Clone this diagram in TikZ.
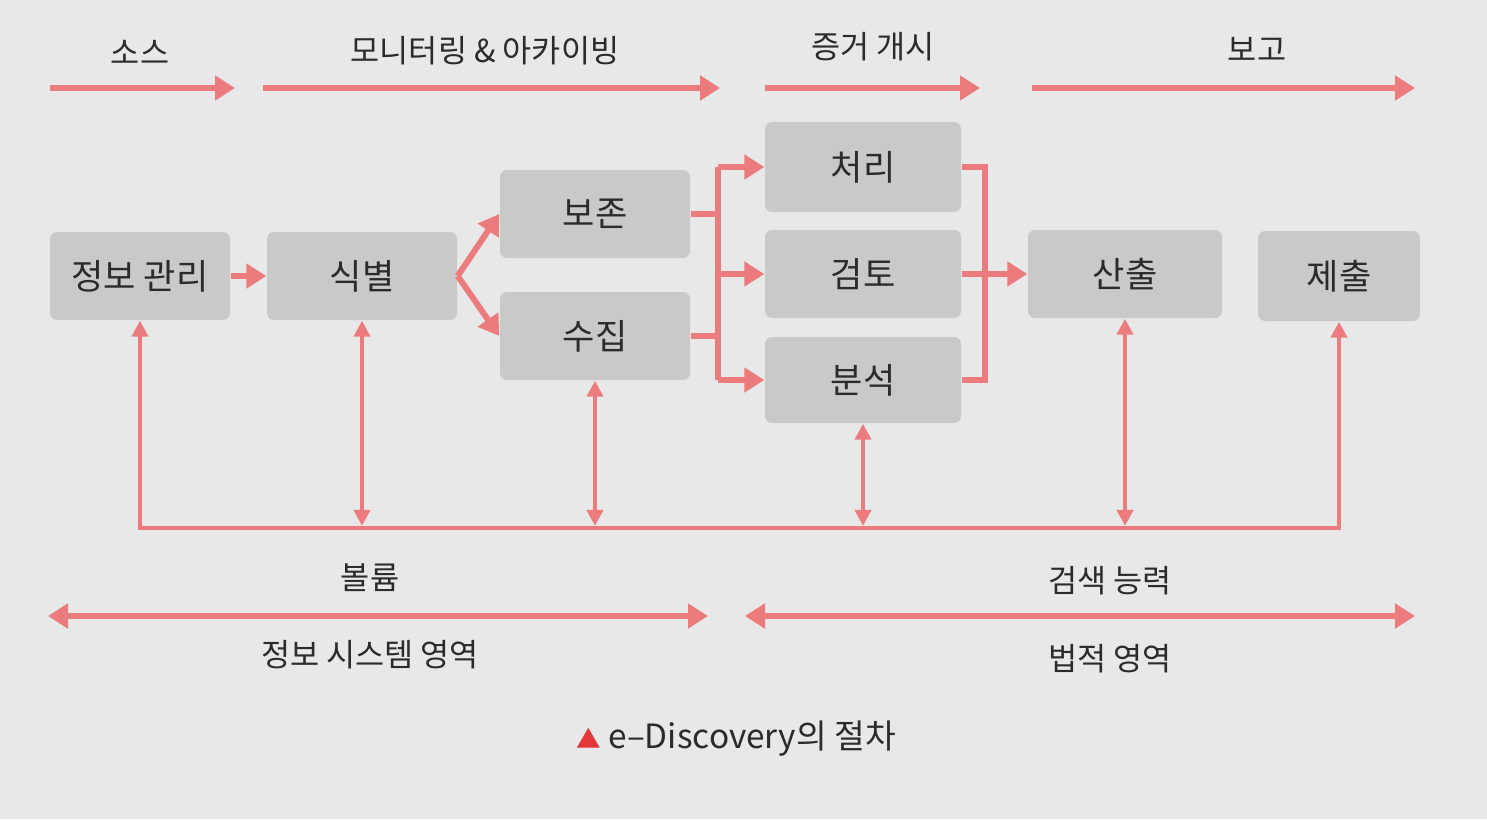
\documentclass[tikz,border=0pt]{standalone}
\usepackage{fontspec}
\setmainfont{Noto Sans CJK KR}
\usepackage{tikz}
\usetikzlibrary{arrows.meta,positioning,calc}
\definecolor{PageGray}{HTML}{E7E8E7}
\definecolor{BoxGray}{HTML}{C9C9C9}
\definecolor{FlowPink}{HTML}{EC7B7D}
\definecolor{TextDark}{HTML}{2B2B2B}
\definecolor{MarkRed}{HTML}{E2383A}
\tikzset{
    % Process box style
    boxnode/.style={
        fill=BoxGray,
        rounded corners=2pt,
        minimum width=1.9cm,
        minimum height=0.88cm,
        inner sep=0pt,
        align=center,
        text=TextDark,
        font=\fontsize{10}{12}\selectfont
    },
    % Plain label style
    labeltext/.style={
        text=TextDark,
        inner sep=1pt,
        font=\fontsize{9}{11}\selectfont
    },
    % Flow line (no tips)
    flowline/.style={
        line width=1.7pt,
        draw=FlowPink
    },
    % Flow arrow
    myarrow/.style={
        flowline,
        ->,
        >={Triangle[length=2mm,width=2.4mm]}
    },
    % Bidirectional arrow
    biarrow/.style={
        flowline,
        <->,
        >={Triangle[length=2mm,width=2.4mm]}
    },
    % Link arrow to the bottom line
    linkarrow/.style={
        <->,
        >={Triangle[length=1.6mm,width=1.6mm]},
        line width=1.3pt,
        draw=FlowPink
    }
}

\begin{document}
\begin{tikzpicture}
    \useasboundingbox (0,0) rectangle (14.87,8.19);
    \fill[PageGray] (0,0) rectangle (14.87,8.19);

    % top stages
    \coordinate (src0) at (0.50,7.31);
    \coordinate (src1) at (2.35,7.31);
    \coordinate (mon0) at (2.63,7.31);
    \coordinate (mon1) at (7.20,7.31);
    \coordinate (disc0) at (7.65,7.31);
    \coordinate (disc1) at (9.80,7.31);
    \coordinate (rep0) at (10.32,7.31);
    \coordinate (rep1) at (14.15,7.31);
    \node[labeltext] (srcL) at (1.40,7.67) {소스};
    \node[labeltext] (monL) at (4.85,7.68) {모니터링 \& 아카이빙};
    \node[labeltext] (discL) at (8.73,7.72) {증거 개시};
    \node[labeltext] (repL) at (12.57,7.70) {보고};
    \draw[myarrow] (src0) -- (src1);
    \draw[myarrow] (mon0) -- (mon1);
    \draw[myarrow] (disc0) -- (disc1);
    \draw[myarrow] (rep0) -- (rep1);

    % process boxes
    \node[boxnode, minimum width=1.8cm] (info) at (1.40,5.43) {정보 관리};
    \node[boxnode] (ident) at (3.62,5.43) {식별};
    \node[boxnode] (preserve) at (5.95,6.05) {보존};
    \node[boxnode] (collect) at (5.95,4.83) {수집};
    \node[boxnode, minimum width=1.96cm, minimum height=0.9cm] (process) at (8.63,6.52) {처리};
    \node[boxnode, minimum width=1.96cm] (review) at (8.63,5.45) {검토};
    \node[boxnode, minimum width=1.96cm, minimum height=0.86cm] (analyze) at (8.63,4.39) {분석};
    \node[boxnode, minimum width=1.94cm] (produce) at (11.25,5.45) {산출};
    \node[boxnode, minimum width=1.62cm, minimum height=0.9cm] (present) at (13.39,5.43) {제출};

    % flow between boxes
    \draw[myarrow] (info) -- (ident);
    \draw[myarrow] (ident.east) -- (preserve.west);
    \draw[myarrow] (ident.east) -- (collect.west);
    \coordinate (splitTop) at (7.18,6.52);
    \coordinate (splitBot) at (7.18,4.39);
    \draw[flowline] (preserve.east) -- (preserve.east -| splitTop);
    \draw[flowline] (collect.east) -- (collect.east -| splitTop);
    \draw[flowline] (splitTop) -- (splitBot);
    \draw[myarrow] (splitTop) -- (process.west);
    \draw[myarrow] (splitTop |- review.west) -- (review.west);
    \draw[myarrow] (splitBot) -- (analyze.west);
    \coordinate (mergeTop) at (9.85,6.52);
    \coordinate (mergeBot) at (9.85,4.39);
    \draw[flowline] (process.east) -- (mergeTop) -- (mergeBot) -- (analyze.east);
    \draw[myarrow] (review) -- (produce);

    % bottom line
    \coordinate (busL) at (1.37,2.91);
    \draw[linkarrow, line join=miter] (info.south) -- (info.south |- busL) -- (present.south |- busL) -- (present.south);
    \draw[linkarrow, shorten >=0.6pt] (ident.south) -- (ident.south |- busL);
    \draw[linkarrow, shorten >=0.6pt] (collect.south) -- (collect.south |- busL);
    \draw[linkarrow, shorten >=0.6pt] (analyze.south) -- (analyze.south |- busL);
    \draw[linkarrow, shorten >=0.6pt] (produce.south) -- (produce.south |- busL);

    % domains
    \coordinate (sys0) at (0.48,2.03);
    \coordinate (sys1) at (7.08,2.03);
    \coordinate (law0) at (7.45,2.03);
    \coordinate (law1) at (14.15,2.03);
    \draw[biarrow] (sys0) -- (sys1);
    \draw[biarrow] (law0) -- (law1);
    \node[labeltext] (volL) at (3.70,2.41) {볼륨};
    \node[labeltext] (sysL) at (3.70,1.64) {정보 시스템 영역};
    \node[labeltext] (searchL) at (11.10,2.38) {검색 능력};
    \node[labeltext] (lawL) at (11.10,1.60) {법적 영역};

    % caption
    \node[labeltext, font=\fontsize{9.5}{11}\selectfont] (caption) at (7.36,0.80)
        {{\fontsize{7}{8}\selectfont\textcolor{MarkRed}{▲}}\ e–Discovery의 절차};
\end{tikzpicture}
\end{document}
